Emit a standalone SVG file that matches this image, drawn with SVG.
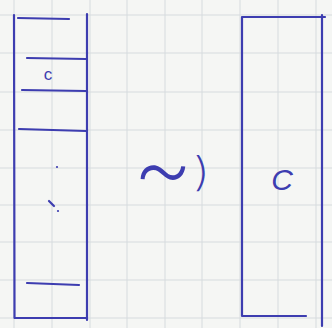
<svg xmlns="http://www.w3.org/2000/svg" width="332" height="328" viewBox="0 0 332 328">
<style>
.grid{stroke:#d6dbde;stroke-width:1;fill:none}
.ink{stroke:#3d3db0;stroke-width:2.2;fill:none;stroke-linecap:round;stroke-linejoin:round}
.lbl{font-family:"Liberation Sans","DejaVu Sans",sans-serif;fill:#3d3db0}
.thin{font-family:Inter,"DejaVu Sans",sans-serif;font-weight:200;fill:#3d3db0}
</style>
<rect width="332" height="328" fill="#f5f6f4"/>
<g id="grid" class="grid">
<path d="M14 0V328M52 0V328M90 0V328M127 0V328M165 0V328M202 0V328M240 0V328M278 0V328M316 0V328"/>
<path d="M0 15H332M0 53H332M0 92H332M0 130H332M0 168H332M0 205H332M0 242H332M0 280H332M0 318H332"/>
</g>
<g id="stack">
<path class="ink" d="M14 15 L14.5 318 L86 318 M87 14 L87 320"/>
<path class="ink" d="M18 18 L69 19"/>
<path class="ink" d="M27 58 L86 59"/>
<path class="ink" d="M22 90 L86 91"/>
<path class="ink" d="M19 129 L86 131"/>
<path class="ink" d="M27 283 L79 285"/>
<text class="lbl" x="48" y="80" font-size="17" text-anchor="middle">c</text>
<circle cx="57" cy="167" r="1.1" fill="#3d3db0"/>
<path class="ink" d="M49 201 L54 206" stroke-width="1.6"/>
<circle cx="58" cy="211" r="1.1" fill="#3d3db0"/>
</g>
<g id="relation">
<text class="thin" x="0" y="28" font-size="80" text-anchor="middle" transform="translate(163 166) scale(1.2 1.4)">~</text>
<text class="thin" x="0" y="0" font-size="40" font-weight="300" text-anchor="middle" transform="translate(202 186) scale(1.3 1)">)</text>
</g>
<g id="box">
<path class="ink" d="M242 17 L325 17 M322 15 L322 326 M242 17 L242 316 L306 316"/>
<text class="lbl" x="282" y="190" font-size="30" text-anchor="middle" font-style="italic">C</text>
</g>
</svg>
